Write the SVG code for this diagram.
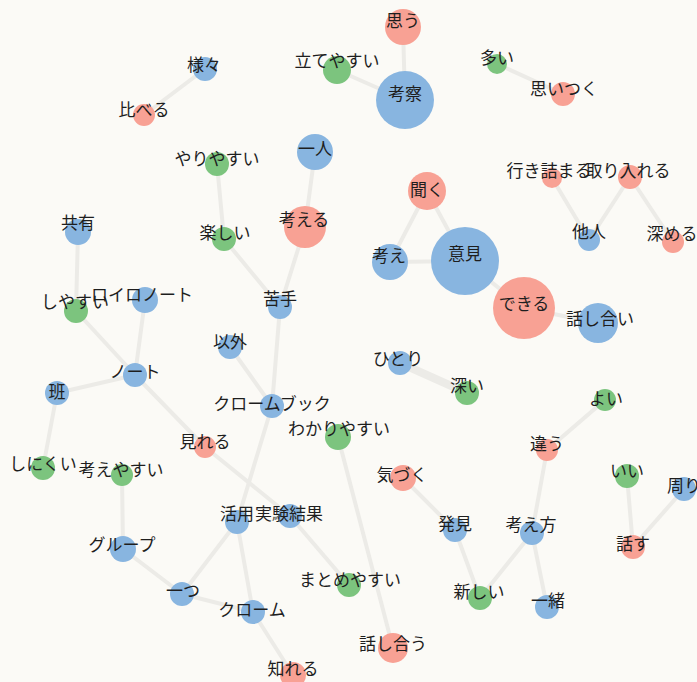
<svg xmlns="http://www.w3.org/2000/svg" width="697" height="682" viewBox="0 0 697 682">
<style>
text{font-family:"Noto Sans CJK JP","Noto Sans CJK SC",sans-serif;font-size:17px;fill:#1e1e1e;text-anchor:middle}
.b{fill:#88b5e0}.r{fill:#f8a194}.g{fill:#7cc47e}
#edges line{stroke:#ecebe7;stroke-width:4;stroke-linecap:round}
</style>
<rect width="697" height="682" fill="#fbfaf6"/>
<g id="edges">
<line x1="403" y1="27" x2="405" y2="100"/>
<line x1="337" y1="70" x2="405" y2="100"/>
<line x1="497" y1="64" x2="563" y2="94"/>
<line x1="205" y1="69" x2="144" y2="115"/>
<line x1="217" y1="164" x2="224" y2="239"/>
<line x1="315" y1="152" x2="305" y2="227"/>
<line x1="305" y1="227" x2="280" y2="307"/>
<line x1="224" y1="239" x2="280" y2="307"/>
<line x1="427" y1="191" x2="390" y2="262"/>
<line x1="427" y1="191" x2="465" y2="261"/>
<line x1="390" y1="262" x2="465" y2="261"/>
<line x1="465" y1="261" x2="524" y2="308"/>
<line x1="524" y1="308" x2="598" y2="323"/>
<line x1="552" y1="178" x2="589" y2="240"/>
<line x1="630" y1="177" x2="589" y2="240"/>
<line x1="630" y1="177" x2="673" y2="242"/>
<line x1="78" y1="232" x2="76" y2="311"/>
<line x1="76" y1="311" x2="135" y2="375"/>
<line x1="145" y1="300" x2="135" y2="375"/>
<line x1="135" y1="375" x2="57" y2="393"/>
<line x1="135" y1="375" x2="205" y2="447"/>
<line x1="57" y1="393" x2="43" y2="468"/>
<line x1="230" y1="347" x2="272" y2="406"/>
<line x1="280" y1="307" x2="272" y2="406"/>
<line x1="272" y1="406" x2="237" y2="522"/>
<line x1="205" y1="447" x2="290" y2="516"/>
<line x1="290" y1="516" x2="349" y2="585"/>
<line x1="338" y1="437" x2="393" y2="648"/>
<line x1="122" y1="475" x2="123" y2="549"/>
<line x1="123" y1="549" x2="182" y2="594"/>
<line x1="182" y1="594" x2="237" y2="522"/>
<line x1="182" y1="594" x2="253" y2="612"/>
<line x1="237" y1="522" x2="253" y2="612"/>
<line x1="253" y1="612" x2="293" y2="675"/>
<line x1="400" y1="363" x2="467" y2="393" style="stroke-width:8"/>
<line x1="605" y1="400" x2="547" y2="450"/>
<line x1="547" y1="450" x2="532" y2="533"/>
<line x1="403" y1="478" x2="455" y2="530"/>
<line x1="455" y1="530" x2="480" y2="598"/>
<line x1="480" y1="598" x2="532" y2="533"/>
<line x1="532" y1="533" x2="547" y2="607"/>
<line x1="627" y1="476" x2="633" y2="547"/>
<line x1="684" y1="489" x2="633" y2="547"/>
</g>
<g id="n-omou"><circle class="r" cx="403" cy="27" r="18"/><text x="403" y="27">思う</text></g>
<g id="n-kousatsu"><circle class="b" cx="405" cy="100" r="29"/><text x="405" y="100">考察</text></g>
<g id="n-tateyasui"><circle class="g" cx="337" cy="70" r="14"/><text x="337" y="67">立てやすい</text></g>
<g id="n-ooi"><circle class="g" cx="497" cy="64" r="10"/><text x="497" y="64">多い</text></g>
<g id="n-omoitsuku"><circle class="r" cx="563" cy="94" r="12"/><text x="564" y="95">思いつく</text></g>
<g id="n-samazama"><circle class="b" cx="205" cy="69" r="12"/><text x="204" y="71">様々</text></g>
<g id="n-kuraberu"><circle class="r" cx="144" cy="115" r="11"/><text x="144" y="116">比べる</text></g>
<g id="n-yariyasui"><circle class="g" cx="217" cy="164" r="12"/><text x="217" y="165">やりやすい</text></g>
<g id="n-hitori1"><circle class="b" cx="315" cy="152" r="18"/><text x="315" y="155">一人</text></g>
<g id="n-kangaeru"><circle class="r" cx="305" cy="227" r="21"/><text x="304" y="226">考える</text></g>
<g id="n-kyouyuu"><circle class="b" cx="78" cy="232" r="13"/><text x="78" y="229">共有</text></g>
<g id="n-tanoshii"><circle class="g" cx="224" cy="239" r="12"/><text x="225" y="239">楽しい</text></g>
<g id="n-kiku"><circle class="r" cx="427" cy="191" r="19"/><text x="427" y="196">聞く</text></g>
<g id="n-ikizumaru"><circle class="r" cx="552" cy="178" r="10"/><text x="549" y="177">行き詰まる</text></g>
<g id="n-toriireru"><circle class="r" cx="630" cy="177" r="12"/><text x="628" y="177">取り入れる</text></g>
<g id="n-tanin"><circle class="b" cx="589" cy="240" r="11"/><text x="589" y="238">他人</text></g>
<g id="n-fukameru"><circle class="r" cx="673" cy="242" r="11"/><text x="672" y="240">深める</text></g>
<g id="n-kangae"><circle class="b" cx="390" cy="262" r="18"/><text x="389" y="262">考え</text></g>
<g id="n-iken"><circle class="b" cx="465" cy="261" r="34"/><text x="465" y="260">意見</text></g>
<g id="n-dekiru"><circle class="r" cx="524" cy="308" r="31"/><text x="524" y="310">できる</text></g>
<g id="n-hanashiai"><circle class="b" cx="598" cy="323" r="20"/><text x="600" y="325">話し合い</text></g>
<g id="n-hitori2"><circle class="b" cx="400" cy="363" r="12"/><text x="398" y="365">ひとり</text></g>
<g id="n-fukai"><circle class="g" cx="467" cy="393" r="12"/><text x="467" y="392">深い</text></g>
<g id="n-yoi"><circle class="g" cx="605" cy="400" r="11"/><text x="606" y="405">よい</text></g>
<g id="n-chigau"><circle class="r" cx="547" cy="450" r="11"/><text x="547" y="450">違う</text></g>
<g id="n-shiyasui"><circle class="g" cx="76" cy="311" r="12"/><text x="75" y="308">しやすい</text></g>
<g id="n-roilo"><circle class="b" cx="145" cy="300" r="13"/><text x="142" y="301">ロイロノート</text></g>
<g id="n-nigate"><circle class="b" cx="280" cy="307" r="12"/><text x="280" y="305">苦手</text></g>
<g id="n-igai"><circle class="b" cx="230" cy="347" r="12"/><text x="230" y="348">以外</text></g>
<g id="n-note"><circle class="b" cx="135" cy="375" r="12"/><text x="135" y="378">ノート</text></g>
<g id="n-han"><circle class="b" cx="57" cy="393" r="12"/><text x="57" y="398">班</text></g>
<g id="n-chromebook"><circle class="b" cx="272" cy="406" r="12"/><text x="272" y="410">クロームブック</text></g>
<g id="n-mireru"><circle class="r" cx="205" cy="447" r="11"/><text x="205" y="448">見れる</text></g>
<g id="n-wakariyasui"><circle class="g" cx="338" cy="437" r="13"/><text x="339" y="435">わかりやすい</text></g>
<g id="n-shinikui"><circle class="g" cx="43" cy="468" r="12"/><text x="43" y="470">しにくい</text></g>
<g id="n-kangaeyasui"><circle class="g" cx="122" cy="475" r="11"/><text x="121" y="476">考えやすい</text></g>
<g id="n-kizuku"><circle class="r" cx="403" cy="478" r="13"/><text x="402" y="481">気づく</text></g>
<g id="n-ii"><circle class="g" cx="627" cy="476" r="12"/><text x="627" y="477">いい</text></g>
<g id="n-mawari"><circle class="b" cx="684" cy="489" r="12"/><text x="684" y="492">周り</text></g>
<g id="n-katsuyou"><circle class="b" cx="237" cy="522" r="12"/><text x="237" y="520">活用</text></g>
<g id="n-jikken"><circle class="b" cx="290" cy="516" r="12"/><text x="289" y="520">実験結果</text></g>
<g id="n-hakken"><circle class="b" cx="455" cy="530" r="12"/><text x="455" y="530">発見</text></g>
<g id="n-kangaekata"><circle class="b" cx="532" cy="533" r="12"/><text x="531" y="531">考え方</text></g>
<g id="n-hanasu"><circle class="r" cx="633" cy="547" r="12"/><text x="633" y="550">話す</text></g>
<g id="n-group"><circle class="b" cx="123" cy="549" r="13"/><text x="122" y="551">グループ</text></g>
<g id="n-hitotsu"><circle class="b" cx="182" cy="594" r="12"/><text x="183" y="597">一つ</text></g>
<g id="n-matomeyasui"><circle class="g" cx="349" cy="585" r="12"/><text x="350" y="586">まとめやすい</text></g>
<g id="n-atarashii"><circle class="g" cx="480" cy="598" r="12"/><text x="479" y="598">新しい</text></g>
<g id="n-issho"><circle class="b" cx="547" cy="607" r="12"/><text x="548" y="607">一緒</text></g>
<g id="n-chrome"><circle class="b" cx="253" cy="612" r="12"/><text x="252" y="616">クローム</text></g>
<g id="n-hanashiau"><circle class="r" cx="393" cy="648" r="15"/><text x="393" y="650">話し合う</text></g>
<g id="n-shireru"><circle class="r" cx="293" cy="675" r="13"/><text x="293" y="675">知れる</text></g>
</svg>
